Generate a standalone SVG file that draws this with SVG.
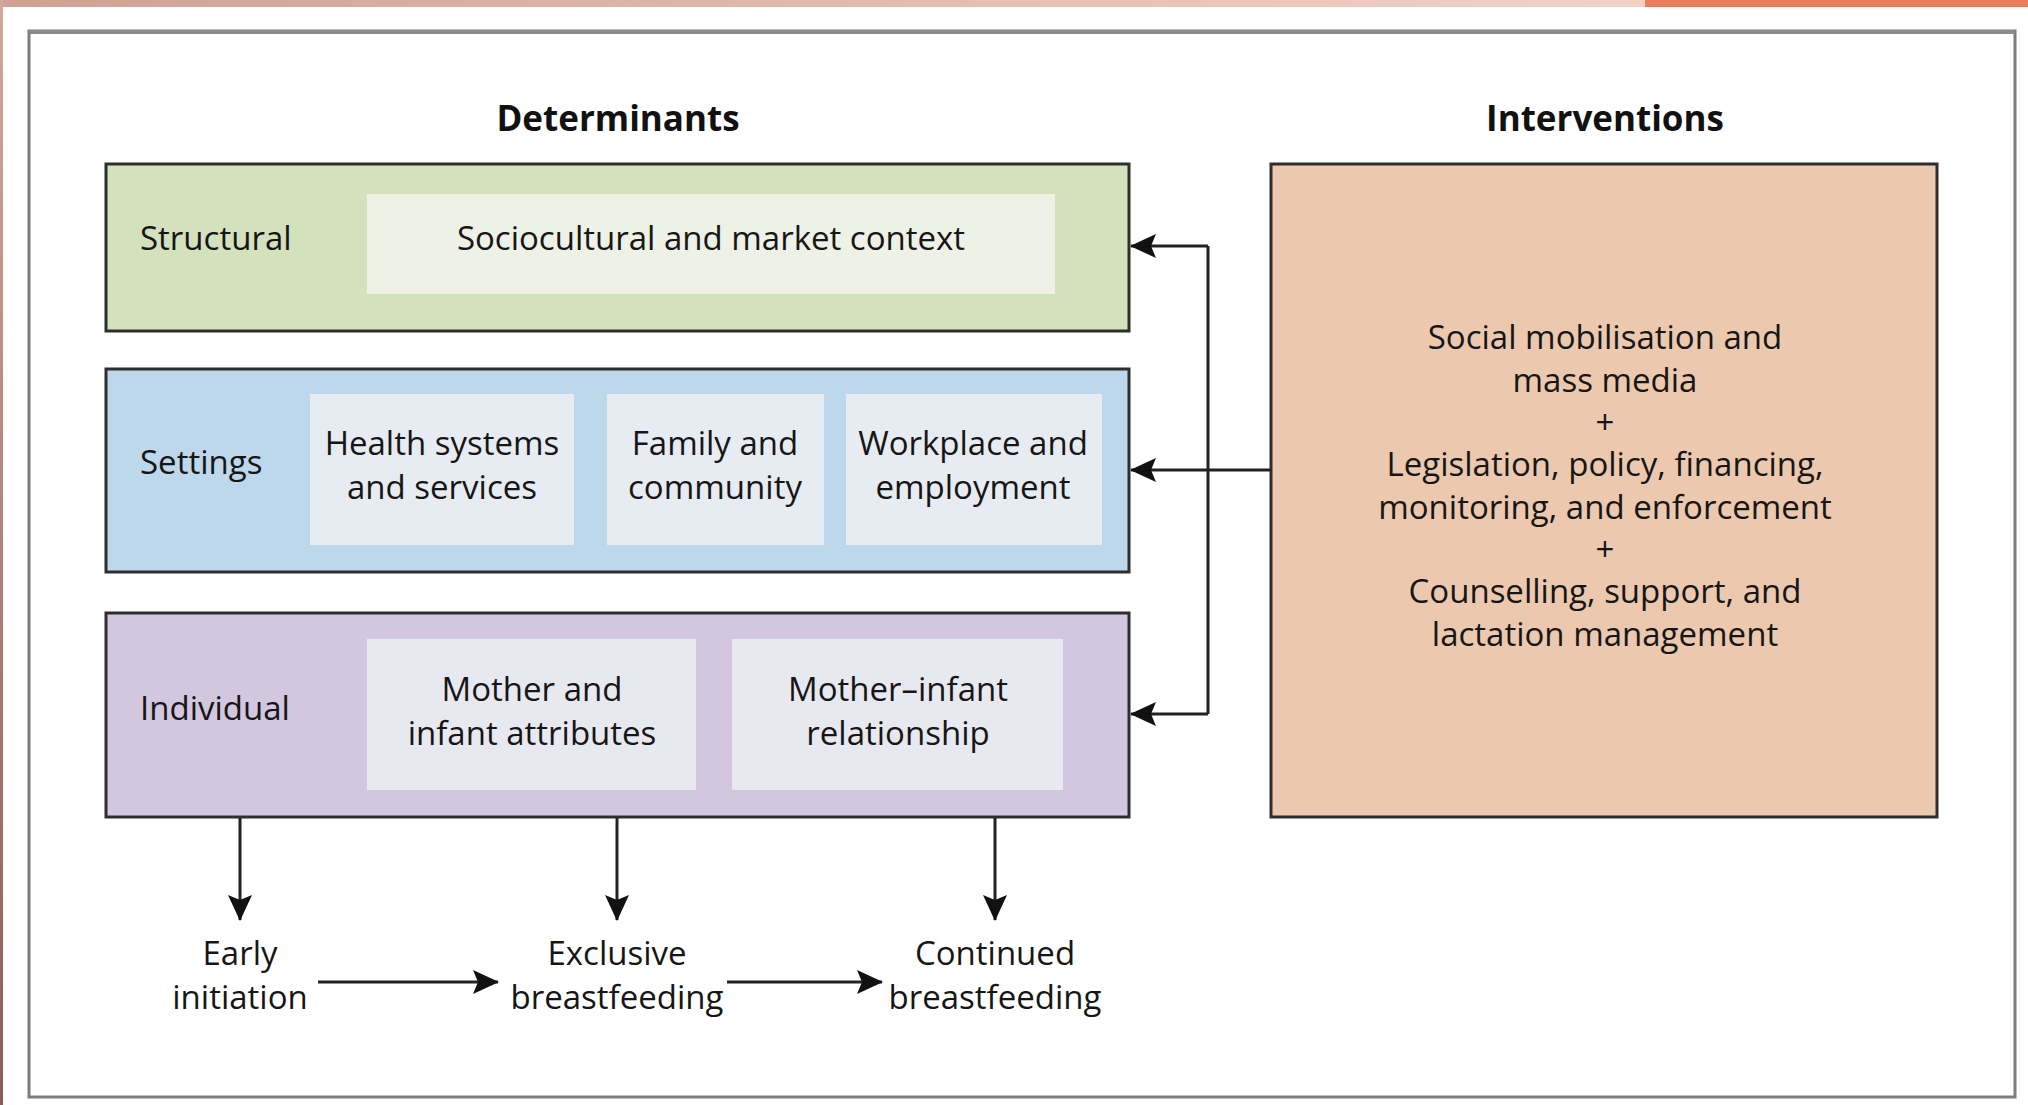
<svg xmlns="http://www.w3.org/2000/svg" width="2028" height="1105" viewBox="0 0 2028 1105">
  <defs>
    <linearGradient id="topBand" x1="0" y1="0" x2="1" y2="0">
      <stop offset="0" stop-color="#cfa193"/>
      <stop offset="1" stop-color="#f1d3c6"/>
    </linearGradient>
    <linearGradient id="sideBand" x1="0" y1="0" x2="0" y2="1">
      <stop offset="0" stop-color="#d2a999"/>
      <stop offset="1" stop-color="#8c5d57"/>
    </linearGradient>
    <marker id="arrow" viewBox="0 0 26 24" refX="25" refY="12" markerWidth="26" markerHeight="24" markerUnits="userSpaceOnUse" orient="auto">
      <path d="M0,0 L26,12 L0,24 L5,12 Z" fill="#111"/>
    </marker>
    <style>
      .lbl { font-family: "Open Sans", "Liberation Sans", sans-serif; font-size: 33px; fill: #161616; }
      .mid { text-anchor: middle; }
      .head { font-family: "Open Sans", "Liberation Sans", sans-serif; font-size: 35px; font-weight: bold; fill: #111; text-anchor: middle; }
      .band { stroke: #2e2e2e; stroke-width: 3; }
      .inner { stroke: none; }
      .wire { fill: none; stroke: #222; stroke-width: 3; marker-end: url(#arrow); }
      .wireplain { fill: none; stroke: #222; stroke-width: 3; }
    </style>
  </defs>

  <!-- page chrome -->
  <rect x="0" y="0" width="2028" height="1105" fill="#ffffff"/>
  <rect x="0" y="0" width="1645" height="7" fill="url(#topBand)"/>
  <rect x="1645" y="0" width="383" height="7" fill="#e8805b"/>
  <rect x="0" y="0" width="3" height="1105" fill="url(#sideBand)"/>

  <!-- outer frame -->
  <rect x="29" y="31" width="1986" height="1066" fill="#ffffff" stroke="#7d7d7d" stroke-width="3"/>
  <line x1="29" y1="32" x2="2015" y2="32" stroke="#8a8a8a" stroke-width="4"/>

  <!-- column headings -->
  <text class="head" x="618" y="131">Determinants</text>
  <text class="head" x="1605" y="131">Interventions</text>

  <!-- structural determinants -->
  <g id="structural">
    <rect class="band" x="106" y="164" width="1023" height="167" fill="#d3e1bd"/>
    <text class="lbl" x="140" y="250">Structural</text>
    <g id="sociocultural">
      <rect class="inner" x="367" y="194" width="688" height="100" fill="#eef1e5"/>
      <text class="lbl mid" x="711" y="250">Sociocultural and market context</text>
    </g>
  </g>

  <!-- settings -->
  <g id="settings">
    <rect class="band" x="106" y="369" width="1023" height="203" fill="#bdd8eb"/>
    <text class="lbl" x="140" y="474">Settings</text>
    <g id="health-systems">
      <rect class="inner" x="310" y="394" width="264" height="151" fill="#e7ecf2"/>
      <text class="lbl mid" x="442" y="455">Health systems</text>
      <text class="lbl mid" x="442" y="499">and services</text>
    </g>
    <g id="family-community">
      <rect class="inner" x="607" y="394" width="217" height="151" fill="#e7ecf2"/>
      <text class="lbl mid" x="715" y="455">Family and</text>
      <text class="lbl mid" x="715" y="499">community</text>
    </g>
    <g id="workplace">
      <rect class="inner" x="846" y="394" width="256" height="151" fill="#e7ecf2"/>
      <text class="lbl mid" x="973" y="455">Workplace and</text>
      <text class="lbl mid" x="973" y="499">employment</text>
    </g>
  </g>

  <!-- individual -->
  <g id="individual">
    <rect class="band" x="106" y="613" width="1023" height="204" fill="#d3c6df"/>
    <text class="lbl" x="140" y="720">Individual</text>
    <g id="mother-infant-attributes">
      <rect class="inner" x="367" y="639" width="329" height="151" fill="#e8e9f0"/>
      <text class="lbl mid" x="532" y="701">Mother and</text>
      <text class="lbl mid" x="532" y="745">infant attributes</text>
    </g>
    <g id="mother-infant-relationship">
      <rect class="inner" x="732" y="639" width="331" height="151" fill="#e8e9f0"/>
      <text class="lbl mid" x="898" y="701">Mother–infant</text>
      <text class="lbl mid" x="898" y="745">relationship</text>
    </g>
  </g>

  <!-- interventions -->
  <g id="interventions">
    <rect class="band" x="1271" y="164" width="666" height="653" fill="#ebc8ae"/>
    <text class="lbl mid" x="1605" y="349">Social mobilisation and</text>
    <text class="lbl mid" x="1605" y="392">mass media</text>
    <text class="lbl mid" x="1605" y="434">+</text>
    <text class="lbl mid" x="1605" y="476">Legislation, policy, financing,</text>
    <text class="lbl mid" x="1605" y="519">monitoring, and enforcement</text>
    <text class="lbl mid" x="1605" y="561">+</text>
    <text class="lbl mid" x="1605" y="603">Counselling, support, and</text>
    <text class="lbl mid" x="1605" y="646">lactation management</text>
  </g>

  <!-- outcomes -->
  <g id="early-initiation">
    <text class="lbl mid" x="240" y="965">Early</text>
    <text class="lbl mid" x="240" y="1009">initiation</text>
  </g>
  <g id="exclusive-breastfeeding">
    <text class="lbl mid" x="617" y="965">Exclusive</text>
    <text class="lbl mid" x="617" y="1009">breastfeeding</text>
  </g>
  <g id="continued-breastfeeding">
    <text class="lbl mid" x="995" y="965">Continued</text>
    <text class="lbl mid" x="995" y="1009">breastfeeding</text>
  </g>

  <!-- connectors -->
  <g id="connectors">
    <path class="wire" d="M1271,470 L1131,470"/>
    <path class="wireplain" d="M1208,246 L1208,714"/>
    <path class="wire" d="M1208,246 L1131,246"/>
    <path class="wire" d="M1208,714 L1131,714"/>
    <path class="wire" d="M240,818 L240,920"/>
    <path class="wire" d="M617,818 L617,920"/>
    <path class="wire" d="M995,818 L995,920"/>
    <path class="wire" d="M318,982 L498,982"/>
    <path class="wire" d="M727,982 L882,982"/>
  </g>
</svg>
